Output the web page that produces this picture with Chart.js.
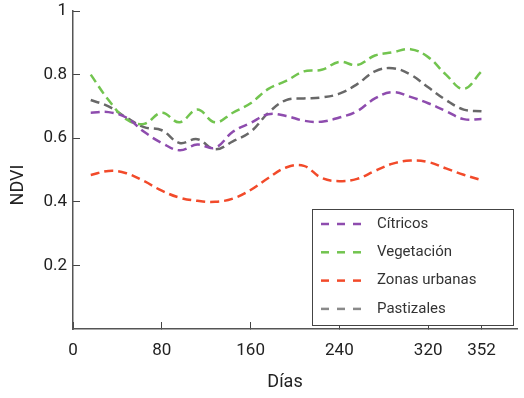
<!DOCTYPE html>
<html>
<head>
<meta charset="utf-8">
<script src="https://cdn.jsdelivr.net/npm/chart.js@4"></script>
<style>
  html, body { margin: 0; padding: 0; background: #fff; }
  #wrap { width: 524px; height: 398px; }
</style>
</head>
<body>
<div id="wrap"><canvas id="ndviChart" width="524" height="398"></canvas></div>
<script>
// 16-day composites, day of year
const days = [16, 32, 48, 64, 80, 96, 112, 128, 144, 160, 176, 192, 208, 224, 240, 256, 272, 288, 304, 320, 336, 352, 368];

const citricos = [0.68, 0.682, 0.665, 0.62, 0.585, 0.562, 0.58, 0.57, 0.62, 0.648, 0.675, 0.67, 0.655, 0.652, 0.665, 0.685, 0.725, 0.745, 0.73, 0.71, 0.685, 0.66, 0.66];
const vegetacion = [0.80, 0.72, 0.66, 0.645, 0.68, 0.65, 0.69, 0.65, 0.68, 0.71, 0.755, 0.78, 0.81, 0.815, 0.84, 0.83, 0.86, 0.87, 0.88, 0.855, 0.80, 0.755, 0.81];
const zonasUrbanas = [0.484, 0.497, 0.49, 0.465, 0.435, 0.413, 0.403, 0.40, 0.41, 0.437, 0.475, 0.508, 0.513, 0.475, 0.465, 0.472, 0.497, 0.52, 0.53, 0.525, 0.505, 0.485, 0.468];
const pastizales = [0.72, 0.70, 0.665, 0.635, 0.625, 0.585, 0.597, 0.565, 0.59, 0.62, 0.68, 0.72, 0.725, 0.728, 0.74, 0.77, 0.81, 0.82, 0.80, 0.76, 0.72, 0.69, 0.685];

const xTickValues = [0, 80, 160, 240, 320, 368];
const xTickLabels = ['0', '80', '160', '240', '320', '352'];
const yTickValues = [0.2, 0.4, 0.6, 0.8, 1];

const seriesNames = ['Cítricos', 'Vegetación', 'Zonas urbanas', 'Pastizales'];
const seriesColors = ['#8e4cae', '#72c44f', '#f24a2a', '#686868'];
const legendColors = ['#8e4cae', '#72c44f', '#f24a2a', '#8a8a8a'];

const FONT = 'Roboto, "Noto Sans", sans-serif';

const makeSet = (i, values) => ({
    label: seriesNames[i],
    data: days.map((d, k) => ({ x: d, y: values[k] })),
    borderColor: seriesColors[i],
    backgroundColor: seriesColors[i],
    borderWidth: 2.5,
    borderDash: [9, 5],
    pointRadius: 0,
    tension: 0.4,
    fill: false
});

// legend drawn inside the plot, with a frame
const insideLegend = {
    id: 'insideLegend',
    afterDraw(chart) {
        const ctx = chart.ctx;
        const left = 312, top = 209, right = 513, bottom = 325;
        ctx.save();
        ctx.fillStyle = '#fff';
        ctx.fillRect(left, top, right - left, bottom - top);
        ctx.strokeStyle = '#444';
        ctx.lineWidth = 1;
        ctx.strokeRect(left + 0.5, top + 0.5, right - left, bottom - top);
        chart.data.datasets.forEach((ds, i) => {
            const y = 224 + i * 28.3;
            ctx.strokeStyle = legendColors[i];
            ctx.lineWidth = 2.5;
            ctx.setLineDash([8, 8]);
            ctx.beginPath();
            ctx.moveTo(321, y);
            ctx.lineTo(364, y);
            ctx.stroke();
            ctx.setLineDash([]);
            ctx.fillStyle = '#333';
            ctx.font = '15px ' + FONT;
            ctx.textBaseline = 'middle';
            ctx.fillText(ds.label, 377, y);
        });
        ctx.restore();
    }
};

// axis titles
const axisTitles = {
    id: 'axisTitles',
    afterDraw(chart) {
        const ctx = chart.ctx;
        ctx.save();
        ctx.fillStyle = '#222';
        ctx.font = '18px ' + FONT;
        ctx.textAlign = 'center';
        ctx.textBaseline = 'middle';
        ctx.fillText('Días', 285, 382);
        ctx.translate(18, 185);
        ctx.rotate(-Math.PI / 2);
        ctx.fillText('NDVI', 0, 0);
        ctx.restore();
    }
};

new Chart(document.getElementById('ndviChart'), {
    type: 'line',
    data: {
        datasets: [
            makeSet(0, citricos),
            makeSet(1, vegetacion),
            makeSet(2, zonasUrbanas),
            makeSet(3, pastizales)
        ]
    },
    options: {
        responsive: false,
        animation: false,
        layout: { padding: { top: 11, right: 7, left: 0, bottom: 0 } },
        plugins: {
            legend: { display: false },
            tooltip: { enabled: false }
        },
        scales: {
            x: {
                type: 'linear',
                min: 0,
                max: 400,
                afterBuildTicks: (scale) => {
                    scale.ticks = xTickValues.map(v => ({ value: v }));
                },
                afterFit: (scale) => {
                    scale.height = 69;
                    scale.paddingLeft = 0;
                    scale.paddingRight = 0;
                },
                ticks: {
                    color: '#222',
                    font: { family: FONT, size: 17 },
                    padding: 19,
                    maxRotation: 0,
                    autoSkip: false,
                    callback: (value) => xTickLabels[xTickValues.indexOf(value)]
                },
                grid: {
                    drawOnChartArea: false,
                    drawTicks: true,
                    tickLength: -7,
                    color: '#444',
                    lineWidth: 1
                },
                border: { display: true, color: '#555', width: 1.5 }
            },
            y: {
                min: 0,
                max: 1,
                afterBuildTicks: (scale) => {
                    scale.ticks = yTickValues.map(v => ({ value: v }));
                },
                afterFit: (scale) => {
                    scale.width = 73;
                    scale.paddingTop = 0;
                    scale.paddingBottom = 0;
                },
                ticks: {
                    color: '#222',
                    font: { family: FONT, size: 17 },
                    padding: 13,
                    callback: (value) => String(value)
                },
                grid: {
                    drawOnChartArea: false,
                    drawTicks: true,
                    tickLength: -7,
                    color: '#444',
                    lineWidth: 1
                },
                border: { display: true, color: '#555', width: 1.5 }
            }
        }
    },
    plugins: [insideLegend, axisTitles]
});
</script>
</body>
</html>
